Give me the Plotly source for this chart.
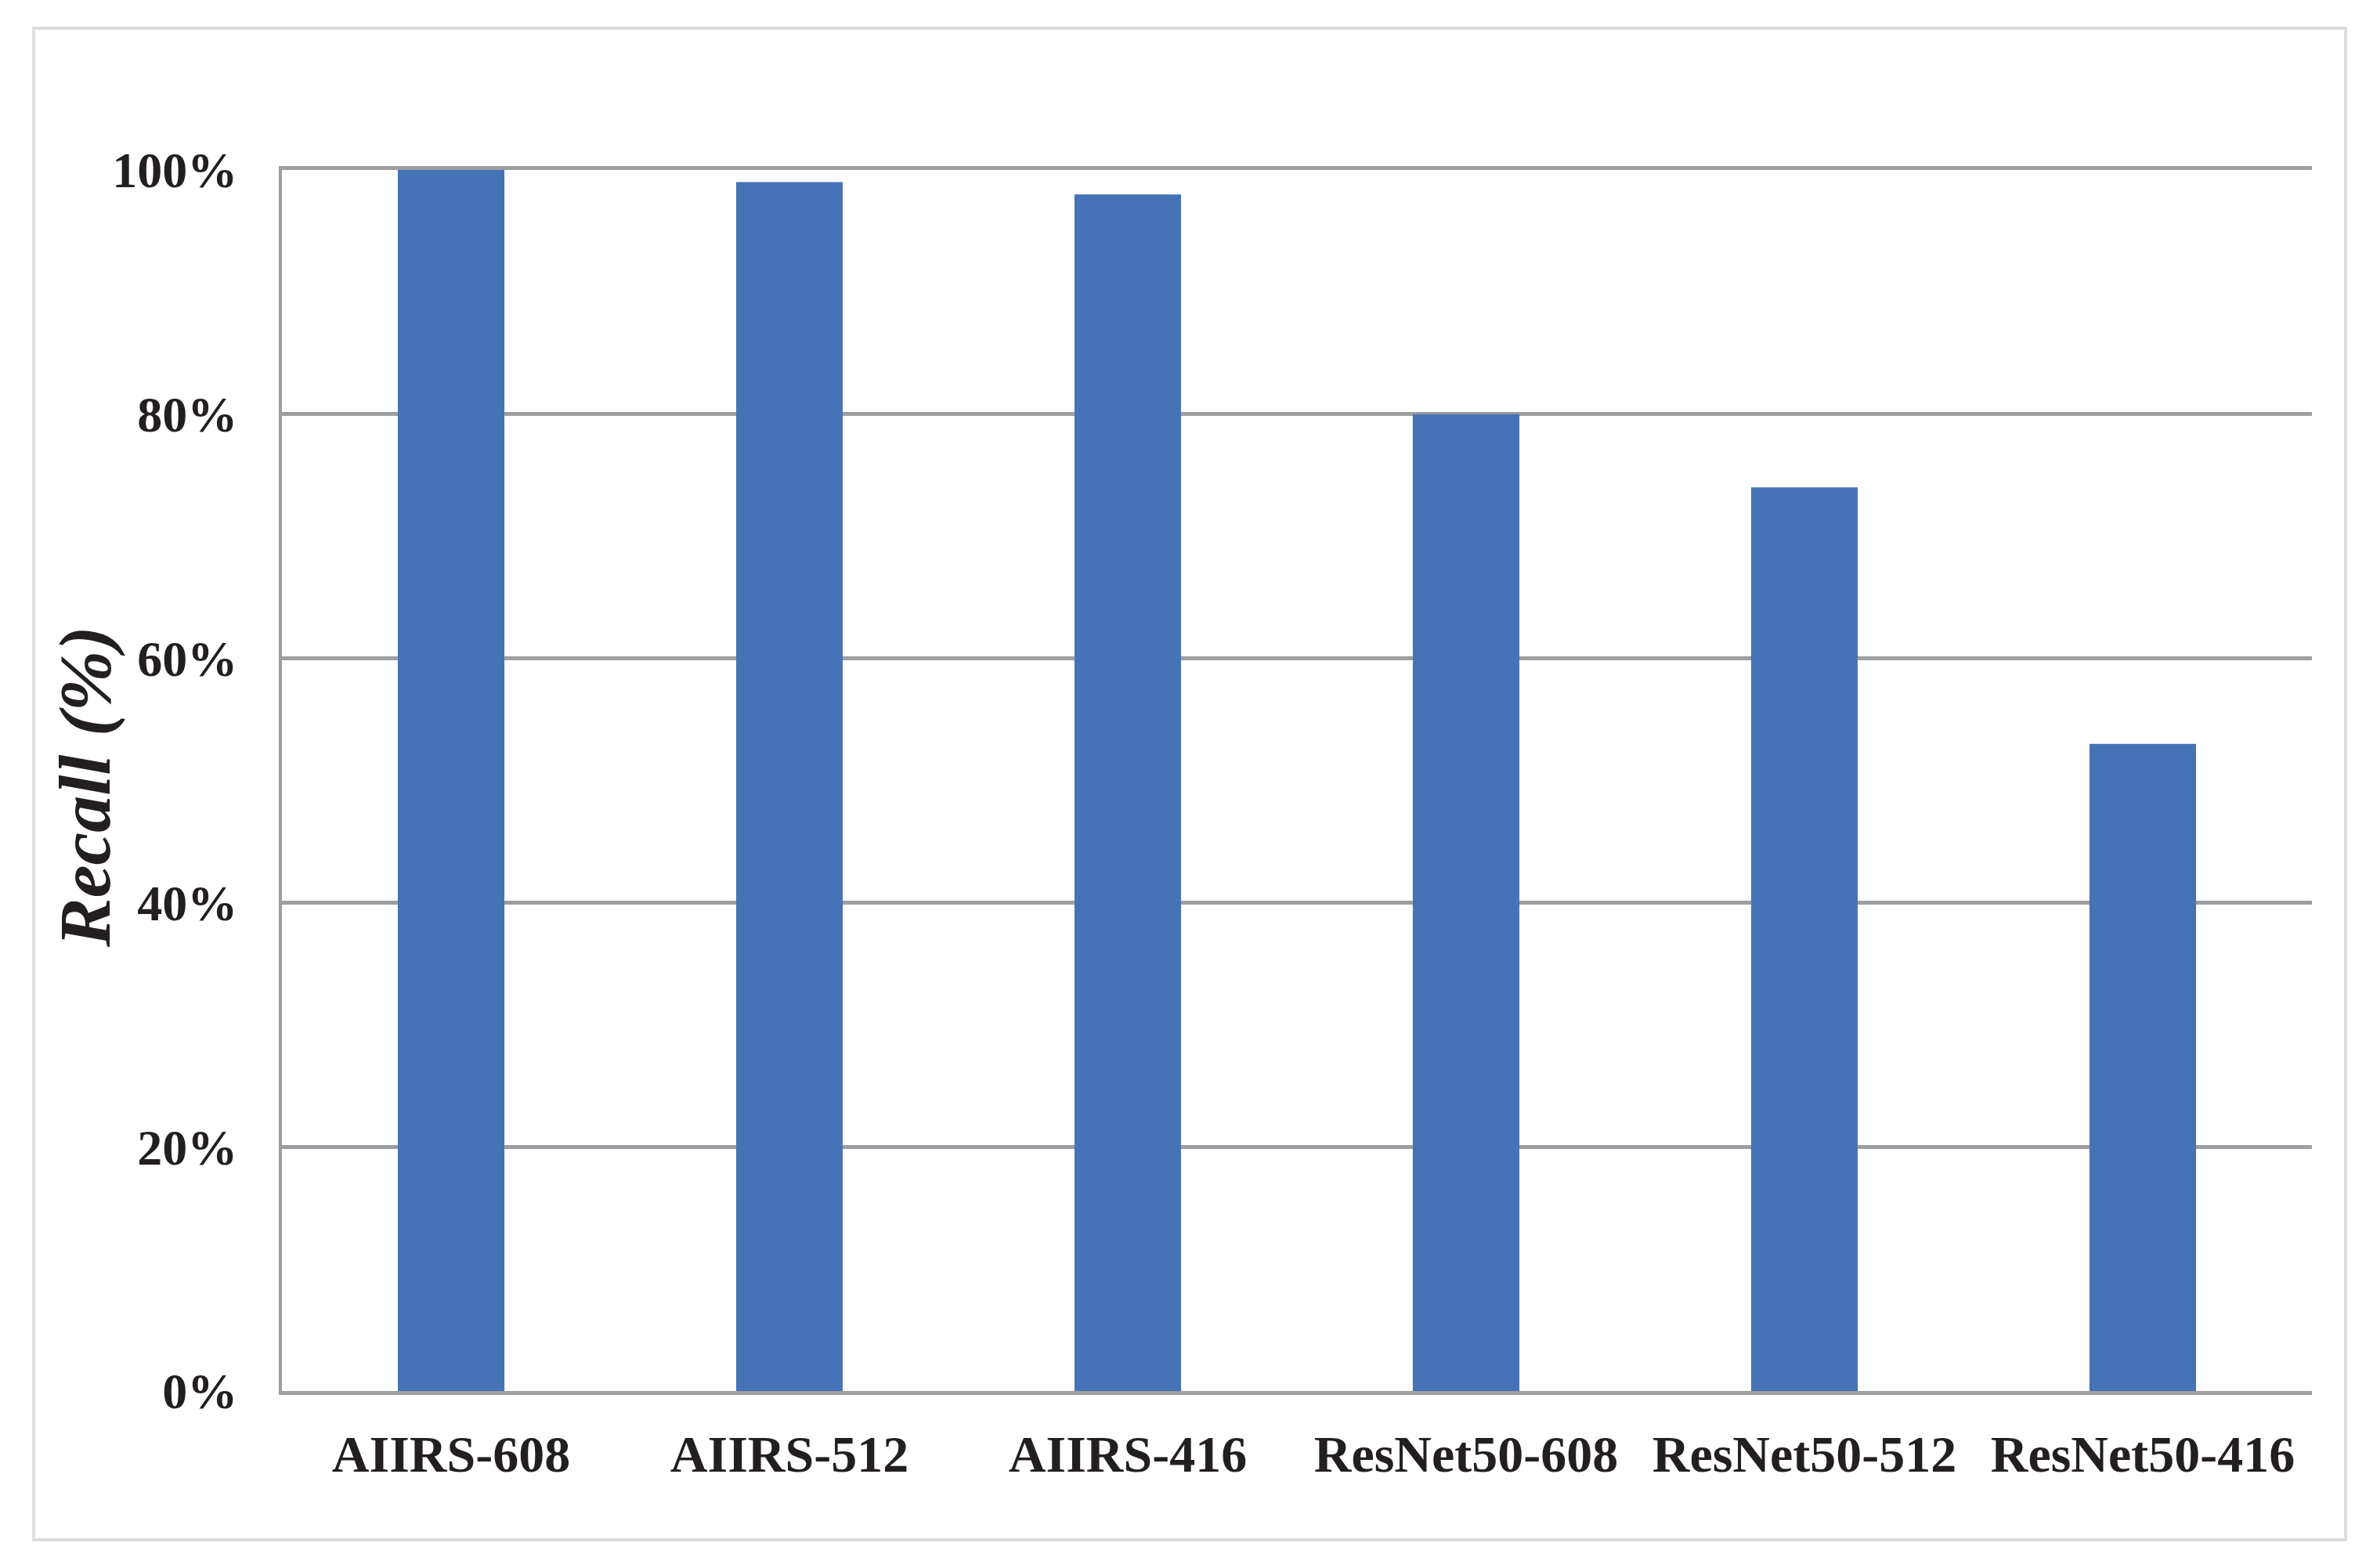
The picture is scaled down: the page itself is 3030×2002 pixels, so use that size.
import plotly.graph_objects as go

categories = ["AIIRS-608", "AIIRS-512", "AIIRS-416", "ResNet50-608", "ResNet50-512", "ResNet50-416"]
recall = [1.00, 0.99, 0.98, 0.80, 0.74, 0.53]
y_ticks = [0, 0.2, 0.4, 0.6, 0.8, 1.0]
y_ticktext = ["0%", "20%", "40%", "60%", "80%", "100%"]
y_title = "Recall (%)"

BAR = "#4673b6"
GRID = "#9e9ea2"
TXT = "#231f20"
FONT = "Liberation Serif"

fig = go.Figure(go.Bar(x=categories, y=recall, marker=dict(color=BAR, line=dict(width=0))))

W, H = 3030, 2002
L, R, T, B = 360, 2952, 217, 1776
pw, ph = R - L, B - T

fig.update_layout(
    width=W, height=H,
    margin=dict(l=L, r=W - R, t=T, b=H - B, autoexpand=False),
    paper_bgcolor="white", plot_bgcolor="white",
    bargap=0.685,
    showlegend=False,
    font=dict(family=FONT, color=TXT),
)

fig.update_xaxes(
    showgrid=False, showline=True, linecolor=GRID, linewidth=5, mirror=True,
    ticks="", ticklabelstandoff=19,
    tickfont=dict(family=FONT, size=66, color=TXT, weight="bold"),
)
fig.update_yaxes(
    range=[0, 1], tickvals=y_ticks, ticktext=y_ticktext,
    showgrid=True, gridcolor=GRID, gridwidth=5,
    showline=True, linecolor=GRID, linewidth=4,
    zeroline=False, ticks="", ticklabelstandoff=40,
    tickfont=dict(family=FONT, size=64, color=TXT, weight="bold"),
)

fig.add_annotation(
    text=y_title, textangle=-90, showarrow=False,
    xref="paper", yref="paper",
    x=(108 - L) / pw, y=(B - 1005) / ph, xanchor="center", yanchor="middle",
    font=dict(family=FONT, size=94, color=TXT, weight="bold", style="italic"),
)

fig.add_shape(
    type="rect", xref="paper", yref="paper",
    x0=(43 - L) / pw, x1=(2995 - L) / pw,
    y0=(B - 1966) / ph, y1=(B - 36) / ph,
    line=dict(color="#dcdde0", width=4), fillcolor="rgba(0,0,0,0)", layer="below",
)

fig.write_html("out.html", config={"displayModeBar": False},
               post_script="document.body.style.margin='0';")
